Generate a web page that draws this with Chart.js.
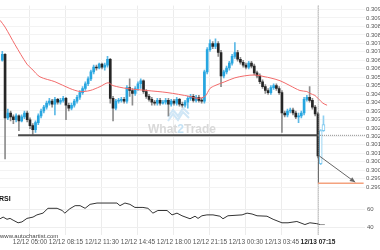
<!DOCTYPE html>
<html>
<head>
<meta charset="utf-8">
<script src="https://cdn.jsdelivr.net/npm/chart.js@4.4.1/dist/chart.umd.min.js"></script>
<style>
  html, body { margin: 0; padding: 0; background: #fff; }
  #chart { display: block; }
</style>
</head>
<body>
<canvas id="chart" width="380" height="250"></canvas>
<script>
// 15 minute candles, one per index
const candleOpen = [
  0.30605,
  0.30640, 0.30264, 0.30293, 0.30270, 0.30253, 0.30276, 0.30247, 0.30270, 0.30293, 0.30253,
  0.30218, 0.30195, 0.30236, 0.30276, 0.30305, 0.30328, 0.30351, 0.30363, 0.30345, 0.30374,
  0.30357, 0.30368, 0.30380, 0.30339, 0.30322, 0.30339, 0.30363, 0.30386, 0.30414, 0.30438,
  0.30466, 0.30495, 0.30536, 0.30564, 0.30559, 0.30582, 0.30564, 0.30576, 0.30611, 0.30380,
  0.30322, 0.30363, 0.30368, 0.30374, 0.30363, 0.30443, 0.30426, 0.30409, 0.30438, 0.30466,
  0.30484, 0.30420, 0.30391, 0.30374, 0.30357, 0.30351, 0.30368, 0.30351, 0.30357, 0.30368,
  0.30345, 0.30363, 0.30351, 0.30374, 0.30345, 0.30339, 0.30357, 0.30380, 0.30391, 0.30368,
  0.30386, 0.30368, 0.30363, 0.30536, 0.30668, 0.30703, 0.30686, 0.30703, 0.30651, 0.30513,
  0.30536, 0.30559, 0.30588, 0.30628, 0.30651, 0.30611, 0.30593, 0.30576, 0.30564, 0.30588,
  0.30570, 0.30530, 0.30513, 0.30478, 0.30449, 0.30426, 0.30414, 0.30443, 0.30455, 0.30438,
  0.30414, 0.30293, 0.30282, 0.30305, 0.30311, 0.30293, 0.30270, 0.30276, 0.30293, 0.30374,
  0.30386, 0.30368, 0.30328, 0.30288,
  0.29993, 0.30189
];
const candleClose = [
  0.30640, 0.30264, 0.30293, 0.30270, 0.30253, 0.30276, 0.30247, 0.30270, 0.30293, 0.30253,
  0.30218, 0.30195, 0.30236, 0.30276, 0.30305, 0.30328, 0.30351, 0.30363, 0.30345, 0.30374,
  0.30357, 0.30368, 0.30380, 0.30339, 0.30322, 0.30339, 0.30363, 0.30386, 0.30414, 0.30438,
  0.30466, 0.30495, 0.30536, 0.30564, 0.30559, 0.30582, 0.30564, 0.30576, 0.30611, 0.30380,
  0.30322, 0.30363, 0.30368, 0.30374, 0.30363, 0.30443, 0.30426, 0.30409, 0.30438, 0.30466,
  0.30484, 0.30420, 0.30391, 0.30374, 0.30357, 0.30351, 0.30368, 0.30351, 0.30357, 0.30368,
  0.30345, 0.30363, 0.30351, 0.30374, 0.30345, 0.30339, 0.30357, 0.30380, 0.30391, 0.30368,
  0.30386, 0.30368, 0.30363, 0.30536, 0.30668, 0.30703, 0.30686, 0.30703, 0.30651, 0.30513,
  0.30536, 0.30559, 0.30588, 0.30628, 0.30651, 0.30611, 0.30593, 0.30576, 0.30564, 0.30588,
  0.30570, 0.30530, 0.30513, 0.30478, 0.30449, 0.30426, 0.30414, 0.30443, 0.30455, 0.30438,
  0.30414, 0.30293, 0.30282, 0.30305, 0.30311, 0.30293, 0.30270, 0.30276, 0.30293, 0.30374,
  0.30386, 0.30368, 0.30328, 0.30288, 0.30039, 0.30189, 0.30224
];
const candleHigh = [
  0.30657, 0.30645, 0.30316, 0.30305, 0.30282, 0.30288, 0.30282, 0.30282, 0.30305, 0.30305,
  0.30264, 0.30230, 0.30247, 0.30288, 0.30316, 0.30339, 0.30363, 0.30380, 0.30374, 0.30386,
  0.30380, 0.30380, 0.30391, 0.30386, 0.30351, 0.30351, 0.30374, 0.30397, 0.30426, 0.30449,
  0.30478, 0.30507, 0.30547, 0.30576, 0.30576, 0.30588, 0.30588, 0.30588, 0.30628, 0.30616,
  0.30391, 0.30374, 0.30380, 0.30386, 0.30386, 0.30455, 0.30495, 0.30438, 0.30449, 0.30478,
  0.30495, 0.30489, 0.30432, 0.30403, 0.30386, 0.30368, 0.30380, 0.30380, 0.30368, 0.30380,
  0.30380, 0.30374, 0.30374, 0.30386, 0.30380, 0.30357, 0.30368, 0.30391, 0.30403, 0.30403,
  0.30397, 0.30397, 0.30380, 0.30547, 0.30680, 0.30726, 0.30715, 0.30732, 0.30715, 0.30663,
  0.30547, 0.30570, 0.30599, 0.30640, 0.30709, 0.30663, 0.30622, 0.30605, 0.30588, 0.30599,
  0.30599, 0.30582, 0.30541, 0.30524, 0.30489, 0.30461, 0.30438, 0.30455, 0.30466, 0.30466,
  0.30449, 0.30426, 0.30305, 0.30316, 0.30322, 0.30322, 0.30305, 0.30293, 0.30305, 0.30386,
  0.30397, 0.30449, 0.30380, 0.30339, 0.30299, 0.30195, 0.30276
];
const candleLow = [
  0.30599, 0.30022, 0.30253, 0.30247, 0.30230, 0.30241, 0.30189, 0.30241, 0.30259, 0.30241,
  0.30201, 0.30166, 0.30178, 0.30224, 0.30264, 0.30293, 0.30316, 0.30339, 0.30328, 0.30282,
  0.30345, 0.30345, 0.30357, 0.30253, 0.30305, 0.30311, 0.30328, 0.30351, 0.30374, 0.30403,
  0.30426, 0.30455, 0.30484, 0.30524, 0.30547, 0.30553, 0.30553, 0.30547, 0.30564, 0.30351,
  0.30247, 0.30311, 0.30351, 0.30357, 0.30351, 0.30351, 0.30391, 0.30339, 0.30397, 0.30426,
  0.30438, 0.30409, 0.30380, 0.30363, 0.30339, 0.30339, 0.30339, 0.30339, 0.30345, 0.30345,
  0.30276, 0.30334, 0.30339, 0.30339, 0.30334, 0.30328, 0.30328, 0.30322, 0.30368, 0.30357,
  0.30357, 0.30357, 0.30351, 0.30351, 0.30524, 0.30657, 0.30674, 0.30674, 0.30628, 0.30449,
  0.30501, 0.30524, 0.30547, 0.30576, 0.30616, 0.30599, 0.30582, 0.30564, 0.30553, 0.30553,
  0.30559, 0.30518, 0.30501, 0.30466, 0.30438, 0.30409, 0.30403, 0.30403, 0.30432, 0.30426,
  0.30403, 0.30178, 0.30270, 0.30270, 0.30293, 0.30282, 0.30259, 0.30236, 0.30264, 0.30282,
  0.30363, 0.30357, 0.30316, 0.30276, 0.30028, 0.29988, 0.30184
];
const signalIndex = 114; // candle where the pattern was flagged

// moving average, traced vertices [candle index, price]
const maX = [-0.8, 1, 4.6, 8.9, 10.7, 13.6, 19, 24.4, 28.1, 31.7, 35.3, 38.2, 40, 45, 52.3, 59.5,
  67.8, 70.3, 73.2, 75, 76.8, 80.4, 84, 87.6, 91.3, 94.9, 96.7, 100.3, 103.9, 107.5, 110,
  111.1, 112.9, 114, 115.8, 117.3];
const maValues = [0.30841, 0.30801, 0.30697, 0.30582, 0.30553, 0.30507, 0.30478, 0.30438, 0.30420,
  0.30426, 0.30449, 0.30472, 0.30455, 0.30438, 0.30426, 0.30414, 0.30391, 0.30380, 0.30391,
  0.30438, 0.30455, 0.30478, 0.30501, 0.30513, 0.30518, 0.30507, 0.30501, 0.30484, 0.30455,
  0.30426, 0.30420, 0.30409, 0.30397, 0.30380, 0.30351, 0.30339];

// RSI, traced vertices
const rsiX = [-0.8, 0.3, 1.7, 2.8, 3.9, 5.7, 7.1, 8.9, 11.1, 12.5, 14.7, 16.5, 19.8, 21.6, 22.6,
  24.4, 26.3, 28.1, 29.9, 31.7, 34.2, 41.4, 42.5, 44.3, 46.1, 47.9, 50.8, 52.6, 54.4, 56.2, 59.5,
  61.3, 63.1, 64.9, 67.8, 69.6, 70.7, 72.1, 73.9, 76.1, 78.6, 79.7, 81.5, 86.6, 88.4, 90.2, 92,
  95.6, 97.8, 101, 103.2, 106.4, 109.3, 111.1, 113.6, 114.7, 116.5];
const rsiValues = [49.6, 51.5, 49, 50, 48, 45, 46, 50, 51.5, 54, 56, 61.5, 61.5, 59, 56,
  61, 64.5, 64.5, 61.5, 66, 67.5, 67.5, 64.5, 67.5, 66, 62.5, 62.5, 61.5, 56, 59, 59,
  54, 56, 53, 49.6, 52.5, 50, 53, 54, 54, 52.5, 49.6, 53, 54, 56, 55, 53,
  52.5, 49, 45, 45, 46.5, 43, 45, 44, 43, 43];

const timeTickPos = [10, 23, 36, 49, 62, 75, 88, 101, 114];
const timeTickLabels = ['12/12 05:00', '12/12 08:15', '12/12 11:30', '12/12 14:45', '12/12 18:00',
  '12/12 21:15', '12/13 00:30', '12/13 03:45', '12/13 07:15'];
const priceTicks = [0.30905, 0.30855, 0.30805, 0.30755, 0.30705, 0.30655, 0.30605, 0.30555,
  0.30505, 0.30455, 0.30405, 0.30355, 0.30305, 0.30255, 0.30205, 0.30155, 0.30105, 0.30055,
  0.30005, 0.29955, 0.29905, 0.29855];
const priceTickLabels = ['0.309', '0.309', '0.308', '0.308', '0.307', '0.307', '0.306', '0.306',
  '0.305', '0.305', '0.304', '0.304', '0.303', '0.303', '0.302', '0.302', '0.301', '0.301',
  '0.300', '0.300', '0.299', '0.299'];
const rsiTicks = [60, 40];

const supportLevel = 0.30161;
const supportStart = 5.7;
const targetLevel = 0.29878;
const arrowFrom = [114.5, 0.30039];
const arrowTo = [127.5, 0.29883];

const FONT = "'Liberation Sans', Arial, sans-serif";
const BLUE = '#27a6e0';
const DARK = '#262626';

const idx = candleClose.map((_, i) => i);
const solid = idx.filter(i => i <= signalIndex);
const hollow = idx.filter(i => i > signalIndex);
const isUp = i => candleClose[i] > candleOpen[i];

const overlay = {
  id: 'overlay',
  beforeDatasetsDraw(chart) {
    const ctx = chart.ctx;
    ctx.save();
    // watermark logo
    ctx.strokeStyle = '#cfe6f6';
    ctx.lineWidth = 2;
    ctx.beginPath();
    ctx.moveTo(168, 117); ctx.lineTo(173, 110); ctx.lineTo(178, 116); ctx.lineTo(183, 108); ctx.lineTo(189, 114);
    ctx.moveTo(168, 121); ctx.lineTo(173, 114); ctx.lineTo(178, 120); ctx.lineTo(183, 112); ctx.lineTo(189, 118);
    ctx.stroke();
    ctx.font = 'bold 12px ' + FONT;
    ctx.textBaseline = 'alphabetic';
    let x = 148;
    [['What', '#d9d9d9'], ['2', '#c4e2f5'], ['Trade', '#d9d9d9']].forEach(([t, c]) => {
      ctx.fillStyle = c;
      ctx.fillText(t, x, 133);
      x += ctx.measureText(t).width;
    });
    ctx.restore();
  },
  afterDatasetsDraw(chart) {
    const {ctx, chartArea: a, scales: {x, y}} = chart;
    const sx = x.getPixelForValue(signalIndex);
    const sy = y.getPixelForValue(supportLevel);
    ctx.save();
    // support line
    ctx.strokeStyle = '#4a4a4a';
    ctx.lineWidth = 2;
    ctx.beginPath();
    ctx.moveTo(x.getPixelForValue(supportStart), sy);
    ctx.lineTo(sx, sy);
    ctx.stroke();
    ctx.lineWidth = 1;
    ctx.strokeStyle = '#8a8a8a';
    ctx.setLineDash([1, 1]);
    ctx.beginPath();
    ctx.moveTo(sx, sy);
    ctx.lineTo(a.right, sy);
    ctx.stroke();
    // vertical marker at the signal candle
    ctx.strokeStyle = '#9a9a9a';
    ctx.beginPath();
    ctx.moveTo(sx + 0.5, a.top);
    ctx.lineTo(sx + 0.5, a.bottom);
    ctx.stroke();
    ctx.setLineDash([]);
    // target
    const ty = y.getPixelForValue(targetLevel);
    const ax0 = x.getPixelForValue(arrowFrom[0]), ay0 = y.getPixelForValue(arrowFrom[1]);
    const ax1 = x.getPixelForValue(arrowTo[0]), ay1 = y.getPixelForValue(arrowTo[1]);
    ctx.strokeStyle = '#666';
    ctx.beginPath();
    ctx.moveTo(sx + 0.5, ay0);
    ctx.lineTo(sx + 0.5, ty);
    ctx.moveTo(ax0, ay0);
    ctx.lineTo(ax1, ay1);
    ctx.stroke();
    const ang = Math.atan2(ay1 - ay0, ax1 - ax0);
    ctx.fillStyle = '#666';
    ctx.beginPath();
    ctx.moveTo(ax1, ay1);
    ctx.lineTo(ax1 - 6 * Math.cos(ang - 0.4), ay1 - 6 * Math.sin(ang - 0.4));
    ctx.lineTo(ax1 - 6 * Math.cos(ang + 0.4), ay1 - 6 * Math.sin(ang + 0.4));
    ctx.closePath();
    ctx.fill();
    ctx.strokeStyle = '#f4a27e';
    ctx.lineWidth = 1.5;
    ctx.beginPath();
    ctx.moveTo(sx, ty);
    ctx.lineTo(x.getPixelForValue(130.5), ty);
    ctx.stroke();
    // captions
    ctx.fillStyle = '#111';
    ctx.font = 'bold 7px ' + FONT;
    ctx.fillText('RSI', -1, 201);
    ctx.fillStyle = '#444';
    ctx.font = '6px ' + FONT;
    ctx.fillText('www.autochartist.com', 0, 238);
    ctx.restore();
  }
};

new Chart(document.getElementById('chart'), {
  type: 'bar',
  data: {
    datasets: [
      {
        type: 'line', label: 'MA', yAxisID: 'y', order: 0,
        data: maX.map((v, i) => ({x: v, y: maValues[i]})),
        borderColor: '#f26b6b', borderWidth: 1, pointRadius: 0, tension: 0.3
      },
      {
        type: 'line', label: 'RSI', yAxisID: 'rsi', order: 0,
        data: rsiX.map((v, i) => ({x: v, y: rsiValues[i]})),
        borderColor: '#333', borderWidth: 1, pointRadius: 0, tension: 0,
        segment: { borderColor: c => c.p0.parsed.x >= signalIndex ? '#999' : '#333' }
      },
      {
        label: 'body', yAxisID: 'y', order: 1, grouped: false,
        data: solid.map(i => ({x: i, y: [candleOpen[i], candleClose[i]]})),
        backgroundColor: solid.map(i => isUp(i) ? BLUE : DARK),
        barThickness: 2, minBarLength: 1
      },
      {
        label: 'after', yAxisID: 'y', order: 1, grouped: false,
        data: hollow.map(i => ({x: i, y: [candleOpen[i], candleClose[i]]})),
        backgroundColor: '#fff', borderColor: '#7cc8ef', borderWidth: 1, borderSkipped: false,
        barThickness: 3, minBarLength: 1
      },
      {
        label: 'wick', yAxisID: 'y', order: 2, grouped: false,
        data: idx.map(i => ({x: i, y: [candleLow[i], candleHigh[i]]})),
        backgroundColor: idx.map(i => i > signalIndex ? '#8fd0f2' : isUp(i) ? '#5cb9e6' : '#8c8c8c'),
        barThickness: 1
      }
    ]
  },
  options: {
    responsive: false,
    animation: false,
    devicePixelRatio: 1,
    layout: { padding: 0 },
    plugins: { legend: { display: false }, tooltip: { enabled: false } },
    scales: {
      x: {
        type: 'linear', min: -0.83, max: 131, offset: false,
        grid: { color: '#ececec', drawTicks: false, offset: false },
        border: { display: false },
        afterBuildTicks: s => { s.ticks = timeTickPos.map(v => ({value: v})); },
        afterFit: s => { s.height = 15; },
        ticks: {
          padding: 3, maxRotation: 0, autoSkip: false,
          font: c => ({ family: FONT, size: 6.5, weight: c.index === timeTickPos.length - 1 ? 'bold' : 'normal' }),
          color: c => c.index === timeTickPos.length - 1 ? '#222' : '#555',
          callback: (v, i) => timeTickLabels[i]
        }
      },
      y: {
        position: 'right', stack: 'panes', stackWeight: 192,
        min: 0.2982, max: 0.30928,
        grid: { color: '#f3f3f3', drawTicks: false },
        border: { display: false },
        afterBuildTicks: s => { s.ticks = priceTicks.map(v => ({value: v})); },
        afterFit: s => { s.width = 15; },
        ticks: {
          padding: 1, autoSkip: false, font: { family: FONT, size: 6 }, color: '#555',
          callback: (v, i) => priceTickLabels[i]
        }
      },
      rsi: {
        position: 'right', stack: 'panes', stackWeight: 43,
        min: 31.1, max: 78.9,
        grid: { color: '#eeeeee', drawTicks: false },
        border: { display: false },
        afterBuildTicks: s => { s.ticks = rsiTicks.map(v => ({value: v})); },
        afterFit: s => { s.width = 15; },
        ticks: {
          padding: 2, autoSkip: false, font: { family: FONT, size: 6 }, color: '#555',
          callback: v => String(v)
        }
      }
    }
  },
  plugins: [overlay]
});
</script>
</body>
</html>
